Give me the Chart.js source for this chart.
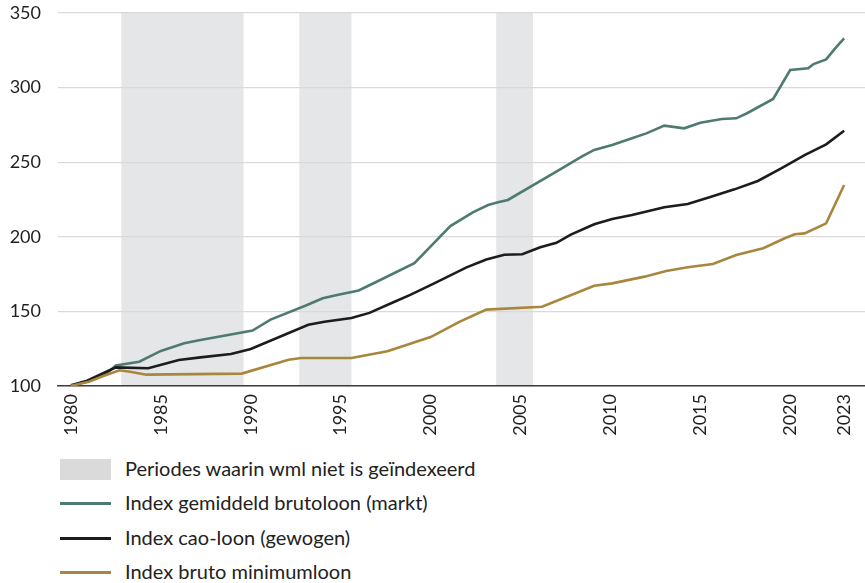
<!DOCTYPE html>
<html>
<head>
<meta charset="utf-8">
<script src="https://cdn.jsdelivr.net/npm/chart.js@4/dist/chart.umd.min.js"></script>
<style>
  html, body { margin: 0; padding: 0; background: #fff; }
  #wrap { position: relative; width: 865px; height: 583px; overflow: hidden; font-family: Lato, "Open Sans", sans-serif; color: #222; }
  #c { position: absolute; left: 0; top: 0; }
  .lg { position: absolute; left: 0; height: 30px; width: 600px; }
  .sw { position: absolute; left: 60px; width: 51px; }
  .tx { position: absolute; left: 125px; font-size: 20px; line-height: 30px; top: 0; white-space: nowrap; }
</style>
</head>
<body>
<div id="wrap">
  <canvas id="c" width="865" height="450"></canvas>
  <div class="lg" style="top:453px"><div class="sw" style="top:6px;height:21px;background:#dadada"></div><div class="tx">Periodes waarin wml niet is geïndexeerd</div></div>
  <div class="lg" style="top:487px"><div class="sw" id="sw1" style="top:15px;height:3px"></div><div class="tx">Index gemiddeld brutoloon (markt)</div></div>
  <div class="lg" style="top:522px"><div class="sw" id="sw2" style="top:15px;height:3px"></div><div class="tx">Index cao-loon (gewogen)</div></div>
  <div class="lg" style="top:556px"><div class="sw" id="sw3" style="top:15px;height:3px"></div><div class="tx">Index bruto minimumloon</div></div>
</div>
<script>
// ---- data ----
const seriesNames = ["Index gemiddeld brutoloon (markt)", "Index cao-loon (gewogen)", "Index bruto minimumloon"];
const seriesColors = ["#4f7a72", "#1c1c1c", "#a8873d"];

const marktYears  = [1980, 1981, 1982, 1982.5, 1983.8, 1985, 1986.3, 1987.2, 1988.2, 1990.1, 1991.1, 1993.0, 1994.0, 1994.8, 1996.0, 1997.0, 1999.1, 2001.1, 2002.35, 2003.2, 2003.75, 2004.3, 2007.3, 2008.4, 2009.1, 2010.1, 2011.2, 2012.0, 2013.0, 2014.1, 2015.0, 2016.2, 2017.0, 2017.6, 2019.05, 2020.0, 2021.0, 2021.3, 2022.0, 2022.5, 2023.0];
const marktValues = [100, 103.3, 108.6, 113.8, 116.3, 123.5, 128.6, 130.8, 133, 137.2, 144.5, 153.6, 158.8, 161, 164, 169.9, 182.4, 207.2, 216.4, 221.3, 223.1, 224.7, 245.9, 253.7, 258.2, 261.5, 266, 269.3, 274.5, 272.7, 276.5, 279, 279.4, 282.8, 292.4, 311.8, 312.9, 315.8, 318.9, 326.3, 333];

const caoYears  = [1980, 1980.9, 1981.85, 1982.5, 1984.3, 1986.0, 1987.2, 1988.9, 1990.0, 1993.2, 1994.1, 1995.6, 1996.6, 1997.9, 1998.9, 2000.2, 2002.0, 2003.1, 2004.1, 2005.1, 2006.1, 2007.0, 2007.8, 2009.1, 2010.1, 2011.2, 2013.0, 2014.3, 2015.6, 2016.9, 2018.2, 2019.5, 2020.8, 2022.0, 2023.0];
const caoValues = [100.5, 103.6, 108.9, 112.5, 111.9, 117.4, 119.2, 121.4, 124.8, 141.1, 143.1, 145.6, 149, 156, 161.2, 168.8, 179.5, 184.8, 188, 188.3, 193, 196, 201.5, 208.4, 211.9, 214.6, 219.8, 222, 226.9, 231.8, 237.4, 245.9, 254.8, 262, 271.1];

const wmlYears  = [1980, 1981, 1981.8, 1982.7, 1983.3, 1984.2, 1989.5, 1992.1, 1992.8, 1995.6, 1997.6, 2000.0, 2001.6, 2003.1, 2006.2, 2009.1, 2010.1, 2011.9, 2013.1, 2014.3, 2015.7, 2017.0, 2018.5, 2019.7, 2020.25, 2020.8, 2022.0, 2023.0];
const wmlValues = [100.2, 102.9, 106.7, 110.5, 109.6, 107.6, 108.3, 117.6, 118.8, 118.8, 123.3, 132.8, 143, 151.2, 153.1, 167.2, 168.8, 173.3, 177.1, 179.6, 181.8, 187.8, 192.3, 199, 201.7, 202.3, 209, 234.7];

// periods in which the minimum wage was not indexed
const bandStarts = [1982.8, 1992.7, 2003.65];
const bandEnds   = [1989.6, 1995.6, 2005.7];

const xTickYears = [1980, 1985, 1990, 1995, 2000, 2005, 2010, 2015, 2020, 2023];
const yTickValues = [100, 150, 200, 250, 300, 350];

// ---- chart ----
const toPts = (xs, ys) => xs.map((x, i) => ({ x: x, y: ys[i] }));
document.getElementById('sw1').style.background = seriesColors[0];
document.getElementById('sw2').style.background = seriesColors[1];
document.getElementById('sw3').style.background = seriesColors[2];

const bandPlugin = {
  id: 'bands',
  beforeDraw(chart) {
    const { ctx, chartArea, scales } = chart;
    ctx.save();
    ctx.fillStyle = '#e5e6e8';
    bandStarts.forEach((s, i) => {
      const x1 = scales.x.getPixelForValue(s);
      const x2 = scales.x.getPixelForValue(bandEnds[i]);
      ctx.fillRect(x1, chartArea.top, x2 - x1, chartArea.bottom - chartArea.top);
    });
    ctx.restore();
  }
};

const mk = (label, xs, ys, color) => ({
  label: label, data: toPts(xs, ys), borderColor: color, backgroundColor: color,
  borderWidth: 2.6, pointRadius: 0, tension: 0, fill: false
});

new Chart(document.getElementById('c'), {
  type: 'line',
  data: {
    datasets: [
      mk(seriesNames[2], wmlYears, wmlValues, seriesColors[2]),
      mk(seriesNames[1], caoYears, caoValues, seriesColors[1]),
      mk(seriesNames[0], marktYears, marktValues, seriesColors[0])
    ]
  },
  options: {
    responsive: false,
    devicePixelRatio: 1,
    animation: false,
    layout: { padding: { top: 13, right: 0, left: 0, bottom: 0 } },
    plugins: { legend: { display: false }, tooltip: { enabled: false } },
    scales: {
      x: {
        type: 'linear',
        min: 1979.28,
        max: 2024.16,
        afterBuildTicks(scale) { scale.ticks = xTickYears.map(v => ({ value: v })); },
        afterFit(scale) { scale.height = 64; scale.paddingLeft = 0; scale.paddingRight = 0; },
        grid: { display: false, drawTicks: false },
        border: { display: true, color: '#3d3d3d', width: 1.6 },
        ticks: {
          autoSkip: false, minRotation: 90, maxRotation: 90, padding: 8,
          color: '#1f1f1f', font: { family: 'Lato', size: 18 },
          callback: v => String(v)
        }
      },
      y: {
        min: 100, max: 350,
        afterBuildTicks(scale) { scale.ticks = yTickValues.map(v => ({ value: v })); },
        afterFit(scale) { scale.width = 58; scale.paddingTop = 0; scale.paddingBottom = 0; },
        grid: { color: '#d9d9d9', lineWidth: 1.3, drawTicks: false },
        border: { display: false },
        ticks: { padding: 17, color: '#1f1f1f', font: { family: 'Lato', size: 18 }, callback: v => String(v) }
      }
    }
  },
  plugins: [bandPlugin]
});
</script>
</body>
</html>
